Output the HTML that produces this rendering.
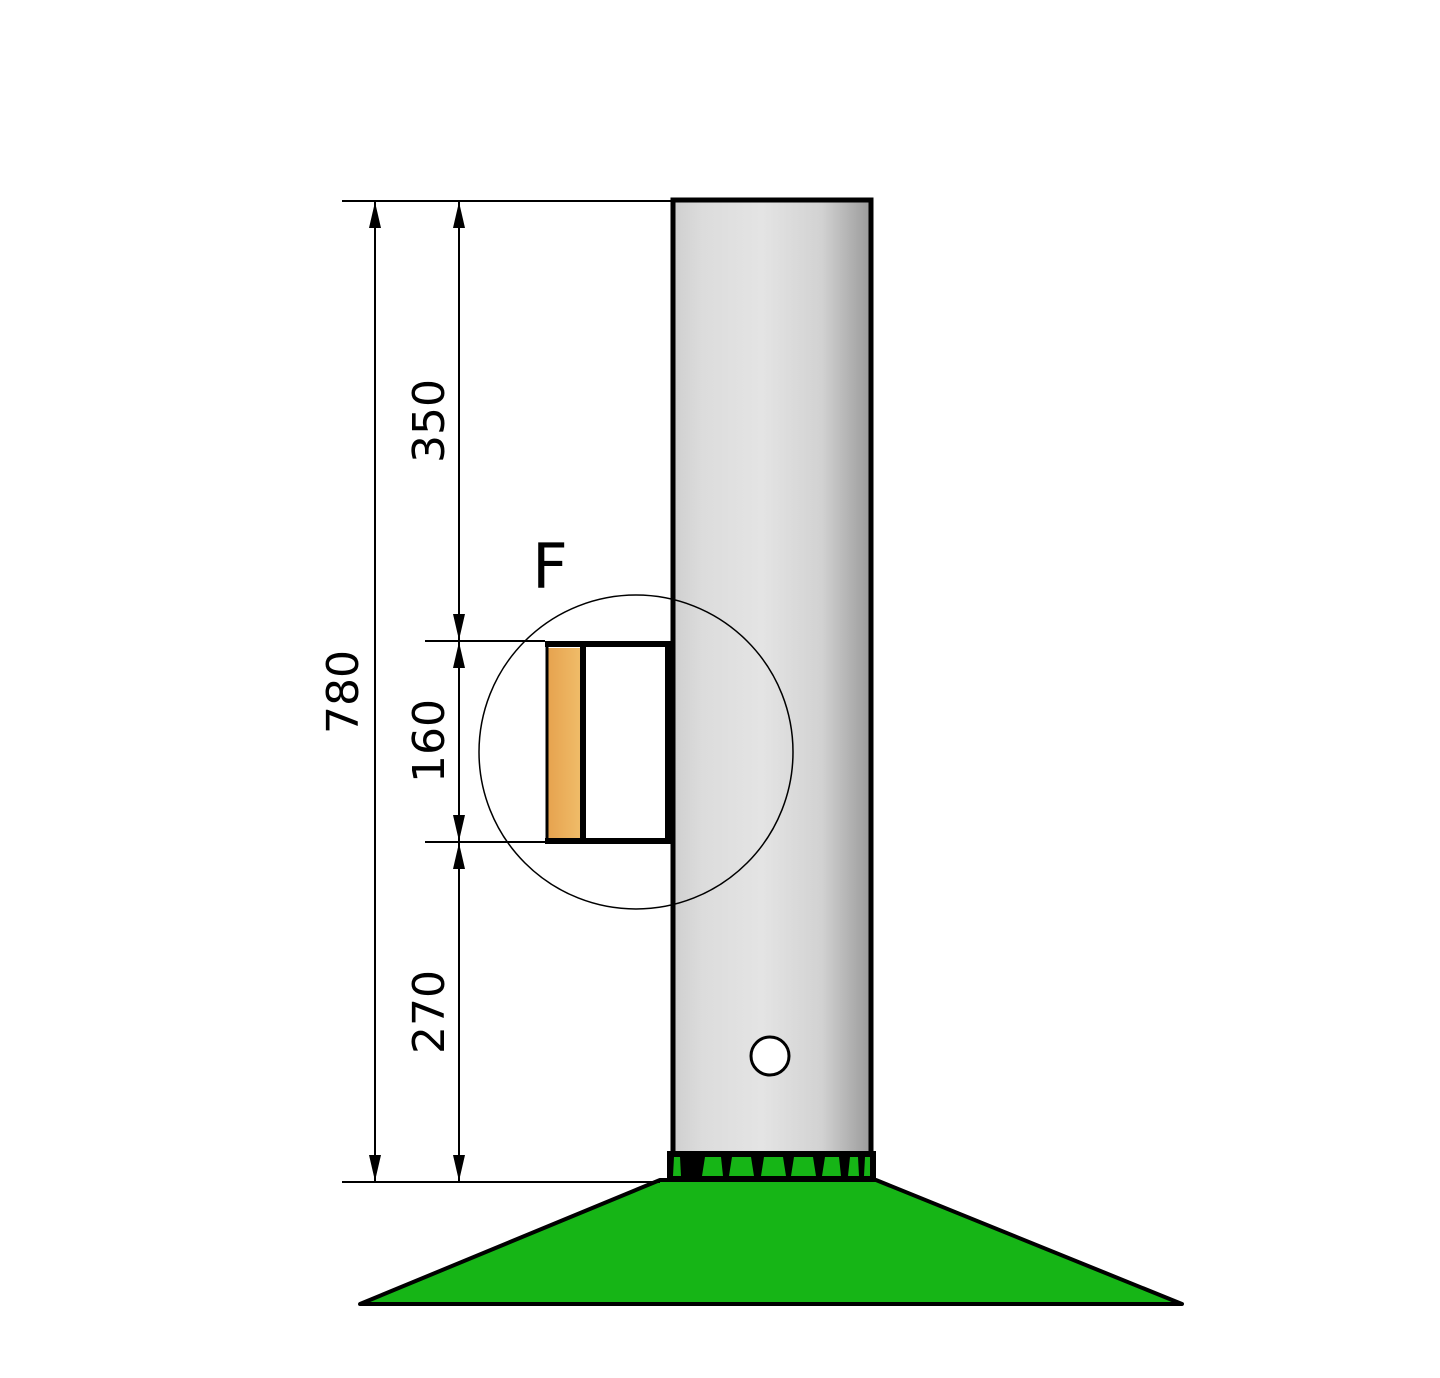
<!DOCTYPE html>
<html><head><meta charset="utf-8"><style>
html,body{margin:0;padding:0;background:#fff;}
svg{display:block;}
text{font-family:"DejaVu Sans","Liberation Sans",sans-serif;fill:#000;}
</style></head><body>
<svg width="1440" height="1378" viewBox="0 0 1440 1378" xmlns="http://www.w3.org/2000/svg">
<defs>
<linearGradient id="pg" x1="0" x2="1" y1="0" y2="0">
<stop offset="0" stop-color="#cfcfcf"/>
<stop offset="0.15" stop-color="#dcdcdc"/>
<stop offset="0.45" stop-color="#e4e4e4"/>
<stop offset="0.75" stop-color="#d2d2d2"/>
<stop offset="1" stop-color="#9a9a9a"/>
</linearGradient>
<linearGradient id="og" x1="0" x2="1"><stop offset="0" stop-color="#e6a24e"/><stop offset="1" stop-color="#f0bd6a"/></linearGradient>
</defs>
<!-- pole -->
<rect x="673" y="200" width="198" height="955" fill="url(#pg)" stroke="#000" stroke-width="5"/>
<!-- hole -->
<circle cx="770" cy="1056" r="19" fill="#fff" stroke="#000" stroke-width="3"/>
<!-- base -->
<polygon points="660,1180 876,1180 1182,1304 360,1304" fill="#16b516" stroke="#000" stroke-width="4" stroke-linejoin="round"/>
<rect x="667" y="1151" width="209" height="31" fill="#000"/>
<g fill="#16b516">
<polygon points="674,1157 680,1157 681,1176 673,1176"/>
<polygon points="705,1157 721,1157 723,1176 702,1176"/>
<polygon points="732,1157 751,1157 754,1176 729,1176"/>
<polygon points="764,1157 783,1157 786,1176 761,1176"/>
<polygon points="794,1157 813,1157 816,1176 791,1176"/>
<polygon points="825,1157 839,1157 841,1176 822,1176"/>
<polygon points="850,1157 858,1157 859,1176 848,1176"/>
<polygon points="865,1157 870,1157 870,1176 864,1176"/>
</g>
<!-- detail circle -->
<circle cx="636" cy="752" r="157" fill="none" stroke="#000" stroke-width="1.5"/>
<!-- bracket -->
<rect x="547" y="648" width="35" height="190" fill="url(#og)"/>
<g stroke="#000" stroke-width="6" fill="none">
<path d="M545 644 H668 V841 H545"/>
<path d="M583 645 V840"/>
<path d="M547 645 V840" stroke-width="3"/>
</g>
<!-- dimension lines -->
<g stroke="#000" stroke-width="2" fill="none">
<path d="M342 201 H672"/>
<path d="M342 1182 H660"/>
<path d="M425 641 H545"/>
<path d="M425 842 H545"/>
<path d="M375 201 V1182"/>
<path d="M459 201 V1182"/>
</g>
<g fill="#000">
<polygon points="375,202 369,228 381,228"/>
<polygon points="375,1181 369,1155 381,1155"/>
<polygon points="459,202 453,228 465,228"/>
<polygon points="459,640 453,614 465,614"/>
<polygon points="459,642 453,668 465,668"/>
<polygon points="459,841 453,815 465,815"/>
<polygon points="459,843 453,869 465,869"/>
<polygon points="459,1181 453,1155 465,1155"/>
</g>
<g font-size="44" text-anchor="middle">
<text transform="translate(358,692) rotate(-90)">780</text>
<text transform="translate(444,421) rotate(-90)">350</text>
<text transform="translate(444,741) rotate(-90)">160</text>
<text transform="translate(444,1012) rotate(-90)">270</text>
</g>
<text x="550" y="588" font-size="62" text-anchor="middle">F</text>
</svg>
</body></html>
